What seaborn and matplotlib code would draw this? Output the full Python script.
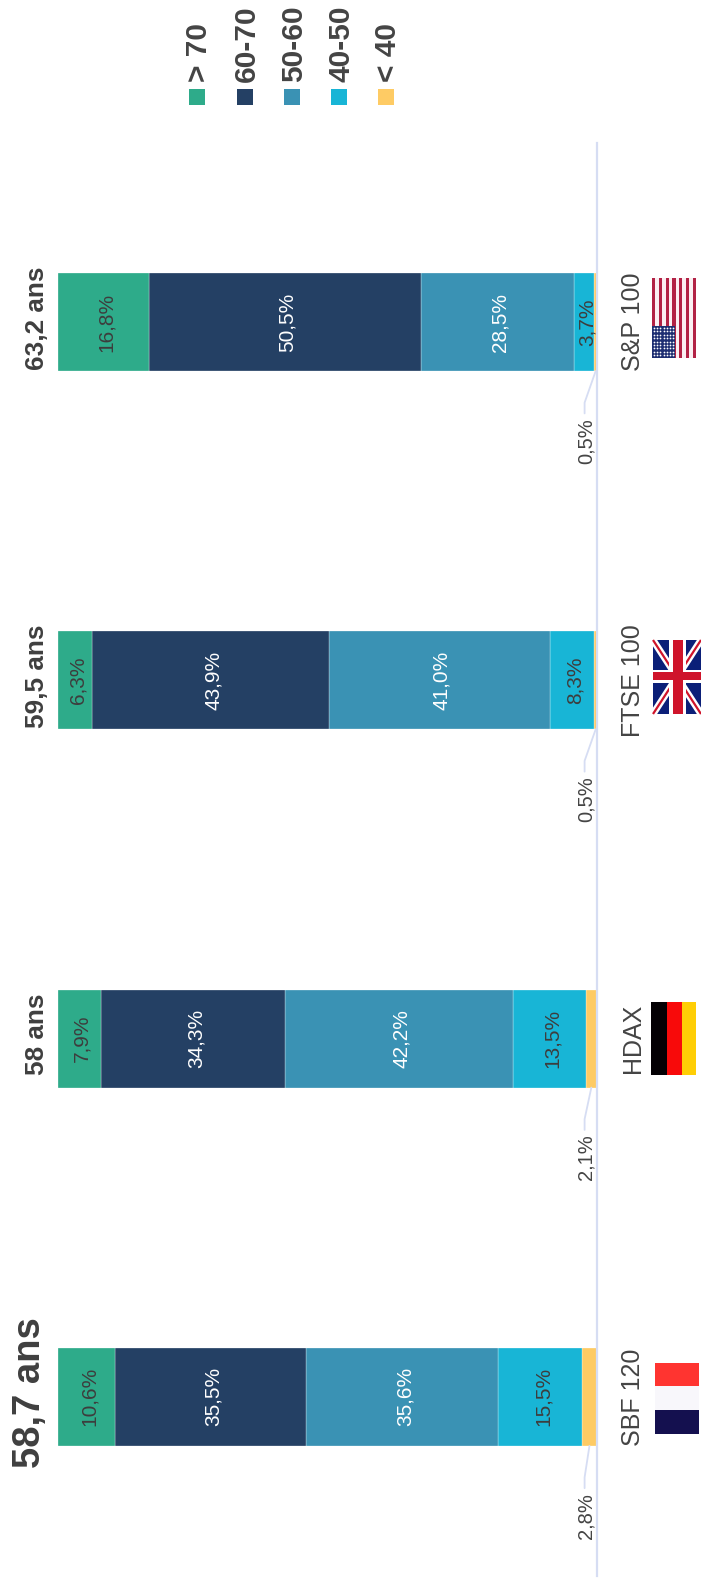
# Stacked bars of board age per index, drawn sideways like the source picture
import matplotlib
matplotlib.use('Agg')
import numpy as np
import matplotlib.pyplot as plt
from matplotlib.patches import Rectangle
import seaborn as sns

# Data, top to bottom
indices = ['S&P 100', 'FTSE 100', 'HDAX', 'SBF 120']
mean_age = ['63,2 ans', '59,5 ans', '58 ans', '58,7 ans']
age_groups = ['< 40', '40-50', '50-60', '60-70', '> 70']
under_40 = [0.5, 0.5, 2.1, 2.8]
from_40_to_50 = [3.7, 8.3, 13.5, 15.5]
from_50_to_60 = [28.5, 41.0, 42.2, 35.6]
from_60_to_70 = [50.5, 43.9, 34.3, 35.5]
over_70 = [16.8, 6.3, 7.9, 10.6]
series = [under_40, from_40_to_50, from_50_to_60, from_60_to_70, over_70]

colors = ['#FECB64', '#18B5D6', '#3A92B4', '#244064', '#2EAB8A']
text_colors = [None, '#3d3d3d', 'white', 'white', '#3d3d3d']
line_color = '#D6DDF3'
grey = '#444444'


def fr(v):
    return f'{v:.1f}'.replace('.', ',') + '%'


sns.set_theme(style='white')
plt.rcParams['font.family'] = ['Liberation Sans', 'DejaVu Sans']

W, H = 701, 1578
fig = plt.figure(figsize=(W / 100, H / 100), dpi=100)
ax = fig.add_axes([58 / W, 1 - 1576 / H, (597 - 58) / W, (1576 - 143) / H])

# Stacks start from the baseline on the right
left = np.zeros(len(indices))
for values, color, tc in zip(series, colors, text_colors):
    sns.barplot(x=values, y=indices, left=left, color=color, saturation=1,
                width=0.2735, errorbar=None, orient='h', ax=ax,
                edgecolor='white', linewidth=0.2)
    if tc is not None:
        labels = ax.bar_label(ax.containers[-1], labels=[fr(v) for v in values],
                              label_type='center', rotation=90, color=tc, fontsize=15)
        # nudge a bit right of the centre, as in the source
        for t in labels:
            t.xyann = (2, 0)
    left = left + np.array(values)

ax.set_xlabel('')
ax.set_ylabel('')
ax.set_xticks([])
sns.despine(ax=ax, left=True, top=True, bottom=True, right=False)
ax.spines['right'].set_color(line_color)
ax.spines['right'].set_linewidth(1.6)
ax.yaxis.tick_right()
ax.tick_params(axis='y', length=0, pad=17, labelrotation=90, labelcolor=grey)
for lab in ax.get_yticklabels():
    lab.set_va('center')
    lab.set_fontsize(18)

# Mean age above each bar, the first one is bigger
for i, txt in enumerate(mean_age):
    big = txt == '58,7 ans'
    ax.annotate(txt, xy=(100, i), xytext=(-10 if big else -9, 4),
                textcoords='offset pixels', rotation=90, ha='right', va='center',
                color='#3f3f3f', fontweight='bold', fontsize=27.5 if big else 18.8,
                annotation_clip=False)

# Small < 40 share sits outside, with a little leader line
half = 0.2735 / 2
for i, v in enumerate(under_40):
    ax.plot([v / 2, 2.3, 2.3], [i + half, i + half + 0.088, i + half + 0.118],
            color=line_color, lw=1.3, clip_on=False)
    ax.annotate(fr(v), xy=(2.0, i + 0.332), rotation=90, ha='center', va='center',
                color=grey, fontsize=14.5, annotation_clip=False)

ax.set_xlim(100, 0)
ax.set_ylim(3.5, -0.5)

# Overlay in pixels for the legend and the flags
ov = fig.add_axes([0, 0, 1, 1], facecolor='none')
ov.set_xlim(0, W)
ov.set_ylim(H, 0)
ov.axis('off')


def rect(x0, y0, x1, y1, c, **kw):
    return ov.add_patch(Rectangle((x0, y0), x1 - x0, y1 - y0, fc=c, ec='none', **kw))


for x, c, name in zip([386, 339, 292, 245, 197], colors, age_groups):
    rect(x - 8, 89, x + 8, 105, c)
    ov.text(x + 2, 82, name, rotation=90, ha='center', va='bottom', color=grey,
            fontweight='bold', fontsize=21.5)

# France
rect(655, 1363, 699, 1386, '#FF3430')
rect(655, 1386, 699, 1410, '#F8F7FB')
rect(655, 1410, 699, 1434, '#14104F')

# Germany
rect(651, 1002, 667, 1075, '#040004')
rect(667, 1002, 682, 1075, '#F80A0A')
rect(682, 1002, 696, 1075, '#FFCE05')

# UK
x0, x1, y0, y1 = 653, 701, 640, 714
clip = rect(x0, y0, x1, y1, '#0B1F78')
for (a, b), (c, d) in [((x0, y0), (x1, y1)), ((x0, y1), (x1, y0))]:
    ov.plot([a, c], [b, d], color='white', lw=5, solid_capstyle='butt', clip_path=clip)
    ov.plot([a, c], [b, d], color='#CF142B', lw=1.6, solid_capstyle='butt', clip_path=clip)
rect(x0, 670, x1, 683, 'white', zorder=3)
rect(669, y0, 686, y1, 'white', zorder=3)
rect(x0, 672, x1, 680, '#CF142B', zorder=3)
rect(672.5, y0, 682.5, y1, '#CF142B', zorder=3)

# USA
stripe = 44 / 13
for k in range(13):
    rect(652 + k * stripe, 278, 652 + (k + 1) * stripe, 358,
         '#B22245' if k % 2 == 0 else '#FBEFF2')
rect(652, 326, 675, 358, '#1E2F72')
gx, gy = np.meshgrid(np.arange(654, 675, 3.2), np.arange(328, 357, 3.4))
ov.scatter(gx.ravel(), gy.ravel(), s=1.6, color='white', linewidths=0)

fig.savefig('out.png', dpi=100)
